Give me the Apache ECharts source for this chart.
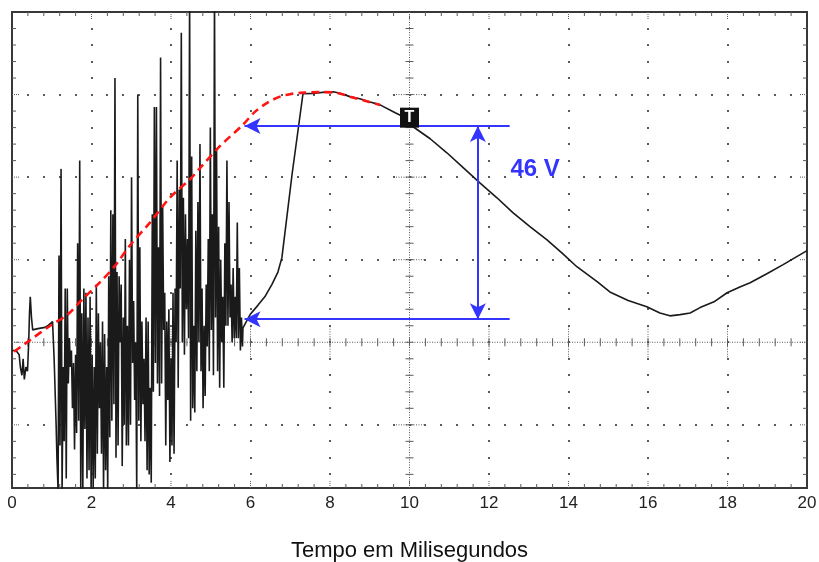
<!DOCTYPE html>
<html>
<head>
<meta charset="utf-8">
<script src="https://cdn.jsdelivr.net/npm/echarts/dist/echarts.min.js"></script>
<style>html,body{margin:0;padding:0;background:#fff}#c{width:819px;height:562px}</style>
</head>
<body>
<div id="c"></div>
<script>
// ---------------- data ----------------
const xTickLabels = ['0','2','4','6','8','10','12','14','16','18','20'];
const xAxisTitle = 'Tempo em Milisegundos';

// clean start of the trace (ms, V)
const traceStartTimes = [0, 0.10, 0.18, 0.21, 0.25, 0.28, 0.31, 0.35, 0.39, 0.42, 0.44, 0.46, 0.49, 0.52, 0.65, 0.83, 0.91, 1.02, 1.06, 1.11, 1.13, 1.16];
const traceStartVolts = [-2, -2, -3, -6, -8, -4, -9, -6, -7, 0, 7, 11, 6, 3, 3.3, 3.6, 4.1, 5, -4, -20, -28, -36];

// ignition noise, uniformly sampled
const noiseStart = 1.182;   // ms
const noiseStep = 0.02608;  // ms per sample
const noiseVolts = [
  21,-25,42,-36,-6,-24,13,-33,13,-10,
  1,-6,-2,-16,-5,-26,-3,-22,24,-19,
  44,-36,7,-36,13,-21,12,-33,6,-31,
  11,-36,-3,-36,-6,-33,14,-27,7,-16,
  0,-27,5,-36,2,-31,-6,-36,16,-23,
  32,-19,31,-15,64,-28,17,-25,16,0,
  14,-30,6,-20,25,-25,4,-25,20,-20,
  40,-5,10,-14,0,-36,60,-19,23,-24,
  5,-15,-4,-24,6,-31,5,-32,-11,-34,
  31,-12,57,-5,57,-10,23,-13,69,-10,
  33,3,12,-25,5,-14,8,-29,-4,-25,
  12,-27,13,0,44,-11,37,13,75,0,
  35,-3,31,8,25,1,85,-19,45,-16,
  4,-17,27,-7,34,0,48,-7,13,-16,
  4,-13,14,-1,25,-7,52,3,31,-8,
  85,6,47,-7,28,-11,20,0,11,-11,
  24,4,44,4,34,6,14,0,18,1,
  11,1,29,1,18,-2,6,-1
];

// clean end of the trace
const traceEndTimes = [5.81, 5.99, 6.19, 6.36, 6.54, 6.69, 6.79, 7.05, 7.32, 7.62, 7.87, 8.08, 8.25, 8.50, 8.75, 9.01, 9.26, 9.64, 9.96, 10.09, 10.52, 10.94, 11.35, 11.77, 12.20, 12.60, 13.03, 13.46, 13.86, 14.21, 14.72, 15.04, 15.50, 15.97, 16.30, 16.55, 16.81, 17.06, 17.31, 17.66, 17.99, 18.31, 18.57, 18.99, 19.40, 19.70, 20.00];
const traceEndVolts = [3.5, 6.7, 9, 11, 14, 17, 20.5, 41, 60.2, 60.3, 60.6, 60.7, 60.3, 59.5, 59, 58.2, 57.5, 55.6, 54.1, 52.2, 49.3, 45.9, 42.3, 38.6, 35, 31.4, 28, 24.8, 21.4, 18.3, 14.7, 12.2, 10.1, 8.6, 7.1, 6.4, 6.7, 7.1, 8.4, 9.8, 12, 13.4, 14.4, 16.6, 18.8, 20.5, 22.2];

// red dashed envelope
const envTimes = [0.05, 0.45, 0.96, 1.41, 1.76, 2.21, 2.59, 2.97, 3.47, 3.97, 4.48, 4.73, 5.23, 5.81, 6.11, 6.42, 6.74, 6.99, 7.25, 7.75, 8.18, 8.50, 8.88, 9.26];
const envVolts = [-2.3, 0.5, 4, 6.8, 10.3, 14.5, 18.5, 23.5, 29, 35, 39.5, 42.2, 47.5, 52.7, 55.8, 58, 59.5, 60.1, 60.4, 60.6, 60.4, 59.5, 58.5, 57.5];

// blue cursors
const cursorHigh = 52.4, cursorLow = 5.6;       // V
const cursorFrom = 5.85, cursorTo = 12.52;       // ms
const cursorArrowTime = 11.72;                   // ms
const deltaLabel = '46 V';
const deltaLabelAt = [13.16, 42];
// trigger marker
const triggerAt = [10, 54.4];
const triggerLabel = 'T';

// axis ranges
const X_MIN = 0, X_MAX = 20, X_MAJOR = 2, X_MINOR = 0.4, X_CENTER = 10;
const Y_MIN = -35.3, Y_MAX = 80, Y_MAJOR = 20, Y_MINOR = 4, Y_CENTER = 0;

// ---------------- build ----------------
const trace = [];
traceStartTimes.forEach((t, i) => trace.push([t, traceStartVolts[i]]));
noiseVolts.forEach((v, i) => trace.push([+(noiseStart + i * noiseStep).toFixed(4), v]));
traceEndTimes.forEach((t, i) => trace.push([t, traceEndVolts[i]]));
const envelope = envTimes.map((t, i) => [t, envVolts[i]]);

const BLUE = '#3434ff';
const GRIDC = '#5a5a5a';
const FONT = 'Liberation Sans, Arial, sans-serif';

function renderGrid(params, api) {
  const ch = [];
  const C = (x, y) => api.coord([x, y]);
  const xL = C(X_MIN, Y_MAX)[0], yT = C(X_MIN, Y_MAX)[1];
  const xR = C(X_MAX, Y_MIN)[0], yB = C(X_MAX, Y_MIN)[1];
  const dot = (cx, cy) => ch.push({type: 'rect', shape: {x: Math.round(cx) - 1, y: Math.round(cy) - 1, width: 2, height: 2}, style: {fill: GRIDC}});
  const seg = (ax, ay, bx, by, dash) => ch.push({type: 'line', shape: {x1: ax, y1: ay, x2: bx, y2: by}, style: {stroke: GRIDC, lineWidth: 1, lineDash: dash || null}});
  const xMinor = [], yMinor = [];
  for (let k = 1; k * X_MINOR < X_MAX - 1e-9; k++) xMinor.push(+(k * X_MINOR).toFixed(4));
  for (let k = Math.ceil(Y_MIN / Y_MINOR); k * Y_MINOR < Y_MAX - 1e-9; k++) yMinor.push(k * Y_MINOR);
  const isMajX = v => Math.abs(v / X_MAJOR - Math.round(v / X_MAJOR)) < 1e-6;
  const isMajY = v => Math.abs(v / Y_MAJOR - Math.round(v / Y_MAJOR)) < 1e-6;
  const cx = C(X_CENTER, 0)[0], cy = C(0, Y_CENTER)[1];
  xMinor.filter(isMajX).forEach(xv => {
    if (xv === X_CENTER) return;
    const px = C(xv, 0)[0];
    yMinor.forEach(yv => dot(px, C(0, yv)[1]));
    seg(px, cy - 16, px, cy + 16, [1, 1.5]);
  });
  yMinor.filter(isMajY).forEach(yv => {
    if (yv === Y_CENTER) return;
    const py = C(0, yv)[1];
    xMinor.forEach(xv => dot(C(xv, 0)[0], py));
    seg(cx - 16, py, cx + 16, py, [1, 1.5]);
  });
  seg(cx, yT, cx, yB, [1, 1.5]);
  seg(xL, cy, xR, cy, [1, 1.5]);
  yMinor.forEach(yv => { const py = C(0, yv)[1]; seg(cx - 4, py, cx + 4, py); });
  xMinor.forEach(xv => { const px = C(xv, 0)[0]; seg(px, cy - 4, px, cy + 4); });
  xMinor.forEach(xv => {
    const px = C(xv, 0)[0]; const L = isMajX(xv) ? 8 : 4;
    seg(px, yT, px, yT + L, isMajX(xv) ? [1, 1] : null);
    seg(px, yB, px, yB - L, isMajX(xv) ? [1, 1] : null);
  });
  yMinor.forEach(yv => {
    const py = C(0, yv)[1]; const L = isMajY(yv) ? 8 : 4;
    seg(xL, py, xL + L, py, isMajY(yv) ? [1, 1] : null);
    seg(xR, py, xR - L, py, isMajY(yv) ? [1, 1] : null);
  });
  return {type: 'group', children: ch};
}

const chart = echarts.init(document.getElementById('c'), null, {renderer: 'canvas'});
chart.setOption({
  animation: false,
  backgroundColor: '#ffffff',
  grid: {left: 12, top: 12, right: 12, bottom: 74, show: true, borderColor: '#383838', borderWidth: 2,
    backgroundColor: 'transparent', containLabel: false, outerBoundsMode: 'none'},
  xAxis: {
    type: 'value', min: X_MIN, max: X_MAX, interval: X_MAJOR,
    axisLine: {show: false}, axisTick: {show: false}, splitLine: {show: false},
    axisLabel: {fontSize: 17, color: '#222', fontFamily: FONT, margin: 7,
      formatter: v => xTickLabels[Math.round(v / X_MAJOR)]},
    name: xAxisTitle, nameLocation: 'middle', nameGap: 52,
    nameTextStyle: {fontSize: 22, color: '#111', fontFamily: FONT}
  },
  yAxis: {
    type: 'value', min: Y_MIN, max: Y_MAX,
    axisLine: {show: false}, axisTick: {show: false}, splitLine: {show: false}, axisLabel: {show: false}
  },
  series: [
    {type: 'custom', renderItem: renderGrid, data: [[0, 0]], silent: true, z: 1, clip: false},
    {type: 'line', data: trace, showSymbol: false, symbol: 'none', z: 3, clip: true,
      lineStyle: {color: '#1a1a1a', width: 1.6}},
    {type: 'line', data: envelope, showSymbol: false, symbol: 'none', smooth: 0.3, z: 4,
      lineStyle: {color: '#ff1414', width: 2.6, type: [8, 5]}},
    {type: 'line', data: [[cursorTo, cursorHigh]], showSymbol: false, symbol: 'none', lineStyle: {width: 0}, z: 5,
      markLine: {
        silent: true, animation: false, symbol: ['none', 'arrow'], symbolSize: [12, 16],
        lineStyle: {color: BLUE, width: 2, type: 'solid'}, label: {show: false},
        data: [
          [{coord: [cursorTo, cursorHigh]}, {coord: [cursorFrom, cursorHigh]}],
          [{coord: [cursorTo, cursorLow]}, {coord: [cursorFrom, cursorLow]}],
          [{coord: [cursorArrowTime, cursorLow], symbol: 'arrow'}, {coord: [cursorArrowTime, cursorHigh], symbol: 'arrow'}]
        ]
      }},
    {type: 'scatter', data: [deltaLabelAt], symbolSize: 1, itemStyle: {color: 'rgba(0,0,0,0)', opacity: 1}, z: 6,
      label: {show: true, position: 'inside', formatter: deltaLabel, color: BLUE, fontSize: 24, fontWeight: 'bold', fontFamily: FONT}},
    {type: 'scatter', data: [triggerAt], symbol: 'rect', symbolSize: [19, 20], itemStyle: {color: '#111', opacity: 1}, z: 7,
      label: {show: true, position: 'inside', formatter: triggerLabel, color: '#fff', fontSize: 16, fontWeight: 'bold', fontFamily: FONT}}
  ]
});
</script>
</body>
</html>
